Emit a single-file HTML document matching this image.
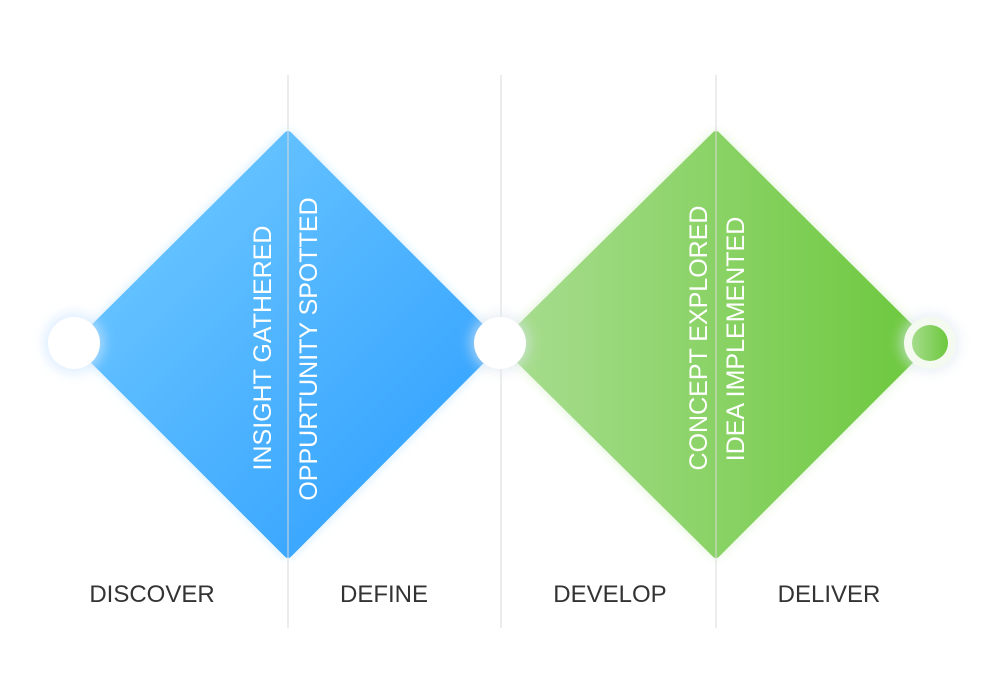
<!DOCTYPE html>
<html><head><style>
html,body{margin:0;padding:0;background:#fff;}
svg{display:block;}
text{font-family:"Liberation Sans",sans-serif;}
</style></head><body>
<svg width="1000" height="697" viewBox="0 0 1000 697" xmlns="http://www.w3.org/2000/svg">
<defs>
<linearGradient id="gb" x1="0" y1="0" x2="1" y2="1">
<stop offset="0" stop-color="#74ccff"/><stop offset="1" stop-color="#2a9cff"/>
</linearGradient>
<linearGradient id="gg" x1="0" y1="0" x2="1" y2="0">
<stop offset="0" stop-color="#a8dd90"/><stop offset="1" stop-color="#6cc83c"/>
</linearGradient>
<linearGradient id="gc" x1="0" y1="0" x2="1" y2="0">
<stop offset="0" stop-color="#a5dc8c"/><stop offset="1" stop-color="#6cc83c"/>
</linearGradient>
<filter id="glow" x="-20%" y="-20%" width="140%" height="140%"><feGaussianBlur stdDeviation="6"/></filter>
</defs>
<polygon points="75,344 288,132 500,344 288,557" fill="#9fd8ff" filter="url(#glow)" opacity="0.7"/>
<polygon points="500,344 716,132 930,344 716,557" fill="#c3e8b0" filter="url(#glow)" opacity="0.7"/>
<polygon points="78,344 288,135 497,344 288,554" fill="url(#gb)" stroke="url(#gb)" stroke-width="8" stroke-linejoin="round"/>
<polygon points="504,344 716,135 926,344 716,554" fill="url(#gg)" stroke="url(#gg)" stroke-width="8" stroke-linejoin="round"/>
<g stroke="#d9d9d9" stroke-width="1">
<line x1="288" y1="75" x2="288" y2="628"/>
<line x1="501" y1="75" x2="501" y2="628"/>
<line x1="716" y1="75" x2="716" y2="628"/>
</g>
<circle cx="74" cy="343" r="30" fill="#cfe6ff" filter="url(#glow)" opacity="0.7"/>
<circle cx="74" cy="343" r="26" fill="#fff"/>
<circle cx="500" cy="343" r="30" fill="#dde6ef" filter="url(#glow)" opacity="0.6"/>
<circle cx="500" cy="343" r="26" fill="#fff"/>
<circle cx="930" cy="343" r="30" fill="#dde8f2" filter="url(#glow)" opacity="0.6"/>
<circle cx="930" cy="343" r="26" fill="#f4faf0"/>
<circle cx="930" cy="343" r="18" fill="url(#gc)"/>
<g fill="#fff" font-size="25" text-anchor="middle">
<text transform="translate(271,348) rotate(-90)">INSIGHT GATHERED</text>
<text transform="translate(317,349) rotate(-90)">OPPURTUNITY SPOTTED</text>
<text transform="translate(707,338) rotate(-90)">CONCEPT EXPLORED</text>
<text transform="translate(744,339) rotate(-90)">IDEA IMPLEMENTED</text>
</g>
<g fill="#333" font-size="24" text-anchor="middle">
<text x="152" y="602">DISCOVER</text>
<text x="384" y="602">DEFINE</text>
<text x="610" y="602">DEVELOP</text>
<text x="829" y="602">DELIVER</text>
</g>
</svg>
</body></html>
